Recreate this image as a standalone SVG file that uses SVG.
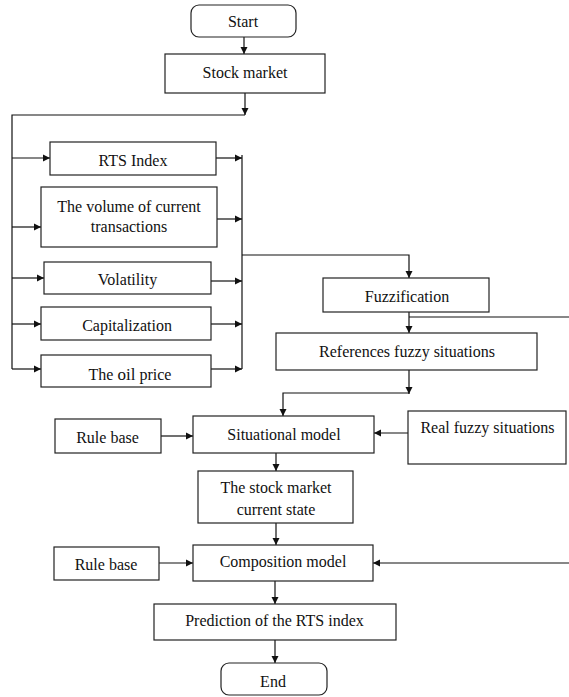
<svg xmlns="http://www.w3.org/2000/svg" width="569" height="697" viewBox="0 0 569 697">
<style>
.b{fill:#fff;stroke:#222;stroke-width:1.2}
.t{font-family:"Liberation Serif","Times New Roman",serif;font-size:16px;fill:#111;text-anchor:middle}
.c{fill:none;stroke:#111;stroke-width:1.2}
.a{marker-end:url(#ah)}
</style>
<defs>
<marker id="ah" markerWidth="8" markerHeight="8" refX="7" refY="4" orient="auto" markerUnits="userSpaceOnUse">
<path d="M0,0.5 L7,4 L0,7.5 Z" fill="#111"/>
</marker>
</defs>
<rect width="569" height="697" fill="#fff"/>
<g id="connectors">
<path class="c a" d="M244,37 V54"/>
<path class="c a" d="M245,93 V115"/>
<path class="c" d="M245,115 H12 V369"/>
<path class="c a" d="M12,158 H50"/>
<path class="c a" d="M12,227 H41"/>
<path class="c a" d="M12,278 H44"/>
<path class="c a" d="M12,324 H41"/>
<path class="c a" d="M12,369 H41"/>
<path class="c a" d="M216,158 H242"/>
<path class="c a" d="M217,219 H242"/>
<path class="c a" d="M211,281 H242"/>
<path class="c a" d="M211,324 H242"/>
<path class="c a" d="M211,369 H242"/>
<path class="c" d="M242,155 V369"/>
<path class="c a" d="M242,255 H409 V278"/>
<path class="c a" d="M409,312 V333"/>
<path class="c" d="M409,317 H569"/>
<path class="c a" d="M409,370 V394"/>
<path class="c a" d="M409,393 H283 V416"/>
<path class="c a" d="M161,436 H193"/>
<path class="c a" d="M408,433 H374"/>
<path class="c a" d="M276,453 V471"/>
<path class="c a" d="M276,523 V545"/>
<path class="c a" d="M159,563 H193"/>
<path class="c a" d="M569,563 H373"/>
<path class="c a" d="M275,581 V604"/>
<path class="c a" d="M275,640 V663"/>
</g>
<g id="start"><rect class="b" x="191" y="5" width="105" height="32" rx="8"/><text class="t" x="243" y="27">Start</text></g>
<g id="stock"><rect class="b" x="165" y="54" width="160" height="39"/><text class="t" x="245" y="78">Stock market</text></g>
<g id="rts"><rect class="b" x="50" y="142" width="166" height="33"/><text class="t" x="133" y="166">RTS Index</text></g>
<g id="volume"><rect class="b" x="41" y="187" width="176" height="60"/><text class="t" x="129" y="212">The volume of current</text><text class="t" x="129" y="232">transactions</text></g>
<g id="volatility"><rect class="b" x="44" y="262" width="167" height="32"/><text class="t" x="127.5" y="285">Volatility</text></g>
<g id="cap"><rect class="b" x="41" y="307" width="170" height="33"/><text class="t" x="127" y="331">Capitalization</text></g>
<g id="oil"><rect class="b" x="41" y="355" width="170" height="32"/><text class="t" x="130" y="380">The <tspan font-size="17">oil</tspan> price</text></g>
<g id="fuzz"><rect class="b" x="323" y="278" width="166" height="34"/><text class="t" x="407" y="302">Fuzzification</text></g>
<g id="refs"><rect class="b" x="276" y="333" width="261" height="37"/><text class="t" x="407" y="357">References fuzzy situations</text></g>
<g id="rule1"><rect class="b" x="55" y="419" width="106" height="34"/><text class="t" x="107.5" y="443">Rule base</text></g>
<g id="sit"><rect class="b" x="193" y="416" width="181" height="37"/><text class="t" x="284" y="440">Situational model</text></g>
<g id="real"><rect class="b" x="408" y="411" width="158" height="53"/><text class="t" x="487.5" y="433">Real fuzzy situations</text></g>
<g id="state"><rect class="b" x="198" y="471" width="155" height="52"/><text class="t" x="276" y="493">The stock market</text><text class="t" x="276" y="515">current state</text></g>
<g id="rule2"><rect class="b" x="54" y="547" width="105" height="33"/><text class="t" x="106" y="570">Rule base</text></g>
<g id="comp"><rect class="b" x="193" y="545" width="180" height="36"/><text class="t" x="283" y="567">Composition model</text></g>
<g id="pred"><rect class="b" x="154" y="604" width="242" height="36"/><text class="t" x="274.5" y="626">Prediction of the RTS index</text></g>
<g id="end"><rect class="b" x="221" y="663" width="106" height="32" rx="8"/><text class="t" x="273" y="687">End</text></g>
</svg>
